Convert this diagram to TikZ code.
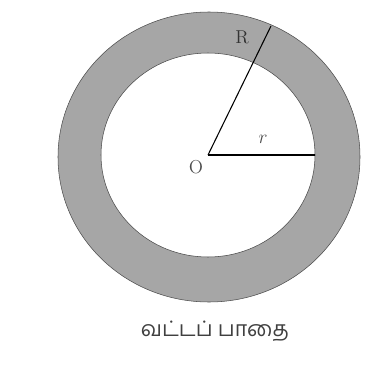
\documentclass[tikz,border=0pt]{standalone}
\usepackage{fontspec}
\newfontfamily\tamilfont[Script=Tamil]{Hind Madurai}
\begin{document}
\begin{tikzpicture}[x=0.75pt,y=-0.75pt,font=\fontsize{14}{16}\selectfont]
      \useasboundingbox (0,0) rectangle (371,371);
      \fill[black!35,even odd rule] (209,157) ellipse (151 and 145) (208,155) ellipse (107 and 102);
      \draw[black!70] (209,157) ellipse (151 and 145);
      \draw[black!70] (208,155) ellipse (107 and 102);
      \coordinate (O) at (208,155);
      \coordinate (Rend) at (271,26);
      \coordinate (rend) at (315,155);
      \draw[thick] (O) -- (Rend);
      \draw[thick] (O) -- (rend);
      \node[text=black!70] (labO) at (196,167) {O};
      \node[text=black!80] (labR) at (242,37) {R};
      \node[text=black!70] (labr) at (263,139) {$r$};
      \node[text=black!75] (caption) at (215,331) {\tamilfont\fontsize{16}{18}\selectfont வட்டப் பாதை};
    \end{tikzpicture}
\end{document}
